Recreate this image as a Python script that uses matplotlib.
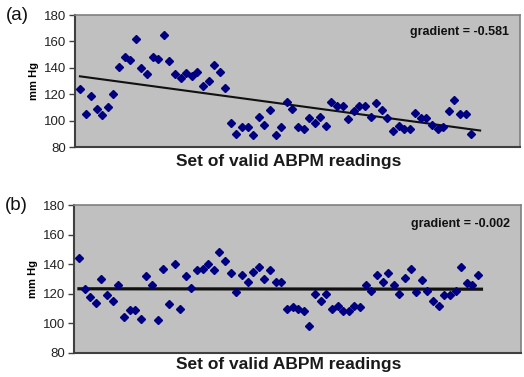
import matplotlib.pyplot as plt
import numpy as np

plt.rcParams['font.family'] = ['Liberation Sans', 'DejaVu Sans']

# readings (mm Hg), one per valid ABPM reading
bp_a = [124, 105, 119, 109, 104, 110, 120, 141, 148, 146, 162, 140, 135, 148, 147,
        165, 145, 135, 132, 136, 134, 137, 126, 130, 142, 137, 125, 98, 90, 95,
        95, 89, 103, 97, 108, 89, 95, 114, 109, 95, 94, 102, 98, 103, 96,
        114, 111, 111, 101, 107, 111, 111, 103, 113, 108, 102, 92, 96, 94, 94,
        106, 102, 102, 97, 94, 95, 107, 116, 105, 105, 90]
bp_b = [144, 123, 118, 114, 130, 119, 115, 126, 104, 109, 109, 103, 132, 126, 102,
        137, 113, 140, 110, 132, 124, 136, 137, 140, 136, 148, 142, 134, 121, 133,
        128, 135, 138, 130, 136, 128, 128, 110, 111, 110, 108, 98, 120, 115, 120,
        110, 112, 108, 108, 112, 111, 126, 122, 133, 128, 134, 126, 120, 131, 137,
        121, 129, 122, 115, 112, 119, 119, 122, 138, 127, 126, 133]
panel_labels = ['(a)', '(b)']
gradient_labels = ['gradient = -0.581', 'gradient = -0.002']
n_readings = 72

fig = plt.figure(figsize=(5.24, 3.77), dpi=100)
ax_a = fig.add_axes([0.143, 0.610, 0.849, 0.350])
ax_b = fig.add_axes([0.141, 0.064, 0.854, 0.392])

for ax, vals, lab, glab, lw, ly in [(ax_a, bp_a, panel_labels[0], gradient_labels[0], 1.5, -0.055),
                                    (ax_b, bp_b, panel_labels[1], gradient_labels[1], 2.3, -0.03)]:
    x = np.arange(len(vals))
    ax.set_facecolor('#c0c0c0')
    ax.plot(x, vals, linestyle='none', marker='D', markersize=3.7,
            color='#000080', zorder=3)
    # linear trendline
    k, c = np.polyfit(x, vals, 1)
    xt = np.array([0, n_readings - 1 + 0.6])
    ax.plot(xt, k * xt + c, color='#111111', lw=lw, zorder=2)

    ax.set_xlim(-0.9, 78.7)
    ax.set_ylim(80, 180)
    ax.set_yticks(range(80, 181, 20))
    ax.set_xticks([])
    ax.tick_params(axis='y', length=4, width=1, color='#404040',
                   labelsize=9.5, labelcolor='#222222', pad=2)
    for s in ['top', 'right']:
        ax.spines[s].set_color('#808080')
        ax.spines[s].set_linewidth(1.2)
    for s in ['left', 'bottom']:
        ax.spines[s].set_color('#404040')
        ax.spines[s].set_linewidth(1.5)

    ax.set_ylabel('mm Hg', fontsize=8, fontweight='bold', labelpad=4)
    ax.set_xlabel('Set of valid ABPM readings', fontsize=12.5, fontweight='bold',
                  color='#1a1a1a')
    ax.xaxis.set_label_coords(0.48, ly, transform=ax.transAxes)
    ax.xaxis.label.set_va('top')
    ax.text(0.975, 0.87, glab, transform=ax.transAxes, ha='right', va='center',
            fontsize=9, fontweight='bold', color='#111111')
    ax.text(-0.155, 1.0, lab, transform=ax.transAxes, ha='left', va='center',
            fontsize=13.5, color='#111111')

fig.savefig('out.png', dpi=100)
